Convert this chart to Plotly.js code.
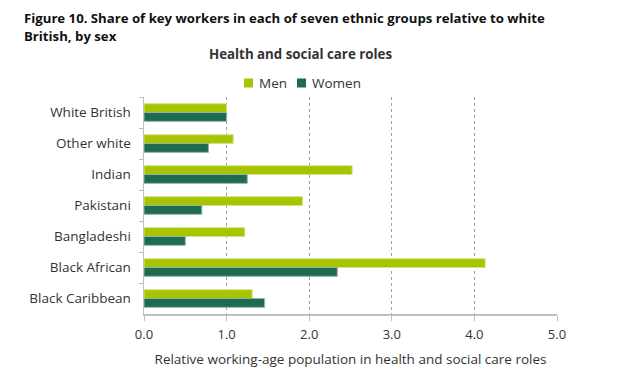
<!DOCTYPE html>
<html>
<head>
<meta charset="utf-8">
<script src="https://cdn.plot.ly/plotly-3.0.1.min.js"></script>
<style>html,body{margin:0;padding:0;background:#fff;}#chart{width:618px;height:380px;}</style>
</head>
<body>
<div id="chart"></div>
<script>
const categories = ["White British", "Other white", "Indian", "Pakistani", "Bangladeshi", "Black African", "Black Caribbean"];
const menValues = [1.00, 1.08, 2.52, 1.92, 1.22, 4.13, 1.31];
const womenValues = [1.00, 0.78, 1.25, 0.70, 0.50, 2.34, 1.46];
const seriesNames = ["Men", "Women"];
const seriesColors = ["#a8c400", "#1e6b51"];
const tickValues = [0, 1, 2, 3, 4, 5];
const tickLabels = ["0.0", "1.0", "2.0", "3.0", "4.0", "5.0"];

const FONT = "'Open Sans', 'Noto Sans', sans-serif";
const traces = [
  {type: "bar", orientation: "h", name: seriesNames[0], y: categories, x: menValues,
   marker: {color: seriesColors[0], line: {color: "#d4e38a", width: 1}}},
  {type: "bar", orientation: "h", name: seriesNames[1], y: categories, x: womenValues,
   marker: {color: seriesColors[1], line: {color: "#8fb5a8", width: 1}}}
];

// custom legend (square + label), positions in paper coords
const legendSquares = [[0.2421, 0.2639], [0.3705, 0.3923]];
const legendTextX = [0.2736, 0.4019];
const shapes = legendSquares.map((s, i) => ({
  type: "rect", xref: "paper", yref: "paper", x0: s[0], x1: s[1], y0: 1.0438, y1: 1.0853,
  fillcolor: seriesColors[i], line: {width: 0}
}));
const legendAnn = seriesNames.map((n, i) => ({
  xref: "paper", yref: "paper", x: legendTextX[i], y: 1.0645, xanchor: "left", yanchor: "middle",
  text: n, showarrow: false, font: {family: FONT, size: 13.5, color: "#333"}
}));

const layout = {
  width: 618, height: 380,
  margin: {l: 144, r: 61, t: 97, b: 66},
  paper_bgcolor: "#fff", plot_bgcolor: "#fff",
  font: {family: FONT, size: 13, color: "#333"},
  barmode: "group", bargap: 0.43, bargroupgap: 0,
  showlegend: false,
  xaxis: {range: [0, 5], tickvals: tickValues, ticktext: tickLabels,
          showgrid: true, gridcolor: "#a0a0a0", griddash: "dot", gridwidth: 1,
          zeroline: false, showline: true, linecolor: "#bfbfbf", linewidth: 1.5,
          ticks: "outside", ticklen: 5, tickcolor: "#bfbfbf",
          tickfont: {size: 13, color: "#333"}, ticklabelstandoff: 3,
          title: {text: "Relative working-age population in health and social care roles",
                  font: {size: 13.5, color: "#333"}, standoff: 12},
          fixedrange: true},
  yaxis: {autorange: "reversed", type: "category", showline: true, linecolor: "#bfbfbf", linewidth: 1.5,
          ticks: "outside", ticklen: 4, tickcolor: "#bfbfbf", tickson: "boundaries",
          showgrid: false, tickfont: {size: 13.5, color: "#333"}, ticklabelstandoff: 9, fixedrange: true},
  shapes: shapes,
  annotations: legendAnn.concat([
    {xref: "paper", yref: "paper", x: 0.38, y: 1.198, xanchor: "center", yanchor: "middle",
     text: "<b>Health and social care roles</b>", showarrow: false,
     font: {family: FONT, size: 13.3, color: "#333"}},
    {xref: "paper", yref: "paper", x: -0.2954, y: 1.364, xanchor: "left", yanchor: "middle", align: "left",
     text: "<b>Figure 10. Share of key workers in each of seven ethnic groups relative to white</b>",
     showarrow: false, font: {family: FONT, size: 13.2, color: "#111"}},
    {xref: "paper", yref: "paper", x: -0.2954, y: 1.281, xanchor: "left", yanchor: "middle", align: "left",
     text: "<b>British, by sex</b>",
     showarrow: false, font: {family: FONT, size: 13.2, color: "#111"}}
  ])
};

Plotly.newPlot("chart", traces, layout, {displayModeBar: false, staticPlot: true});
</script>
</body>
</html>
